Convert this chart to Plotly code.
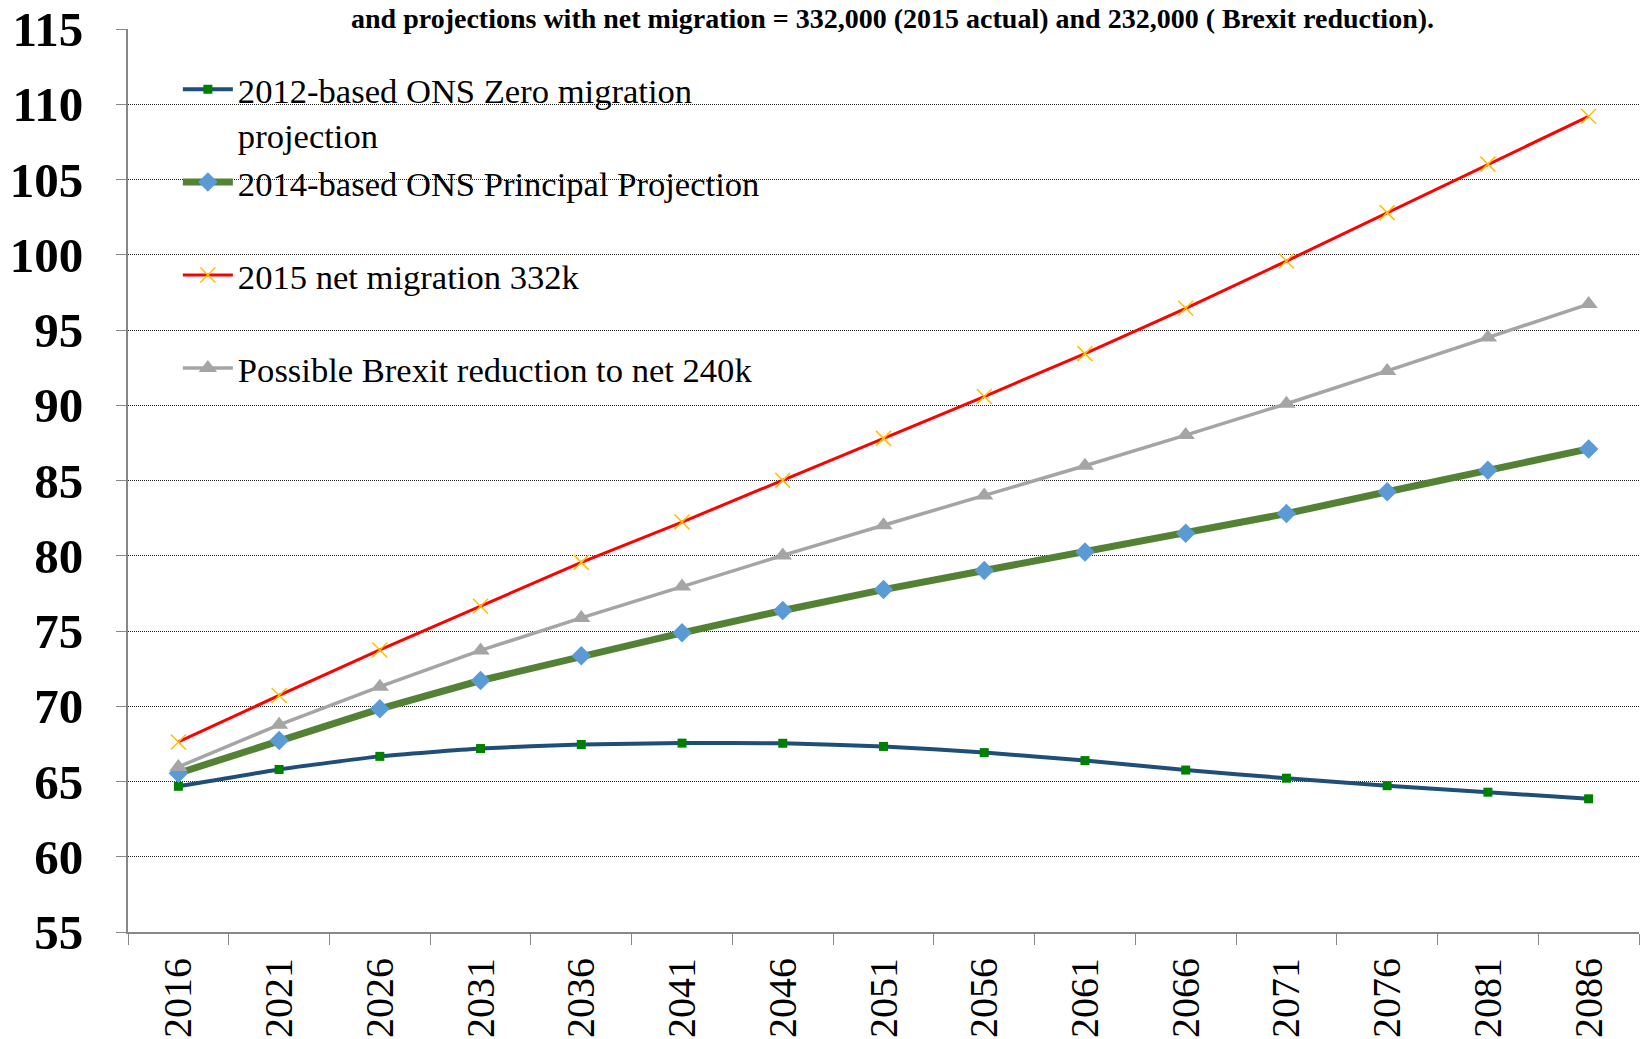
import plotly.graph_objects as go

# Projection years (category axis)
years = ["2016", "2021", "2026", "2031", "2036", "2041", "2046", "2051",
         "2056", "2061", "2066", "2071", "2076", "2081", "2086"]

# UK population projections, millions
zero_migration_2012 = [64.68, 65.80, 66.67, 67.19, 67.46, 67.55, 67.54, 67.33,
                       66.92, 66.39, 65.76, 65.22, 64.72, 64.29, 63.85]
principal_2014 = [65.55, 67.73, 69.83, 71.71, 73.35, 74.88, 76.36, 77.75,
                  79.02, 80.25, 81.50, 82.80, 84.25, 85.68, 87.10]
net_migration_332k = [67.63, 70.72, 73.74, 76.64, 79.56, 82.24, 85.01, 87.80,
                      90.58, 93.43, 96.44, 99.58, 102.80, 106.02, 109.20]
brexit_240k = [65.97, 68.77, 71.30, 73.71, 75.87, 77.96, 80.02, 82.03,
               84.00, 85.98, 88.02, 90.10, 92.28, 94.50, 96.72]

names = [
    "2012-based ONS Zero migration<br>projection",
    "2014-based ONS Principal Projection<br> ",
    "2015 net migration 332k<br> ",
    "Possible Brexit reduction to net 240k<br> ",
]

title_text = ("and projections with net migration = 332,000 (2015 actual) "
              "and 232,000 ( Brexit reduction).")

y_ticks = list(range(55, 116, 5))

SERIF = "Liberation Serif"
AXIS_GREY = "#878787"

fig = go.Figure()

fig.add_trace(go.Scatter(
    x=years, y=zero_migration_2012, name=names[0], legendgroup="a",
    mode="lines+markers",
    line=dict(color="#1F4E79", width=4, shape="spline", smoothing=0.5),
    marker=dict(symbol="square", size=9, color="#008000"),
))
fig.add_trace(go.Scatter(
    x=years, y=principal_2014, name=names[1], legendgroup="b",
    mode="lines+markers",
    line=dict(color="#548235", width=7),
    marker=dict(symbol="diamond", size=15, color="#5B9BD5"),
))
fig.add_trace(go.Scatter(
    x=years, y=net_migration_332k, name=names[2], legendgroup="c",
    mode="lines+markers",
    line=dict(color="#FF0000", width=3),
    marker=dict(symbol="x-thin", size=15, color="#FFC000",
                line=dict(color="#FFC000", width=1.5)),
))
fig.add_trace(go.Scatter(
    x=years, y=brexit_240k, name=names[3], legendgroup="d",
    mode="lines+markers",
    line=dict(color="#A5A5A5", width=3.5),
    marker=dict(symbol="triangle-up", size=16, color="#A5A5A5"),
))

fig.add_annotation(
    text="<b>" + title_text + "</b>",
    xref="paper", yref="paper", x=0.506, y=1.031,
    xanchor="center", yanchor="top", showarrow=False,
    font=dict(family=SERIF, size=28, color="black"),
)

fig.update_layout(
    width=1641, height=1039, autosize=False,
    margin=dict(l=128, r=2, t=29, b=107, pad=0),
    paper_bgcolor="white", plot_bgcolor="white",
    showlegend=True,
    legend=dict(
        x=0.033, y=0.9655, xanchor="left", yanchor="top",
        bgcolor="rgba(0,0,0,0)", borderwidth=0,
        font=dict(family=SERIF, size=34.6, color="black"),
        valign="top", tracegroupgap=0, traceorder="normal",
        itemwidth=50,
    ),
    xaxis=dict(
        type="category", tickson="boundaries",
        ticks="outside", ticklen=11, tickwidth=1, tickcolor=AXIS_GREY,
        showline=True, linewidth=2, linecolor=AXIS_GREY,
        showgrid=False, zeroline=False,
        tickangle=-90, ticklabelstandoff=8,
        tickfont=dict(family=SERIF, size=40, color="black"),
        range=[-0.5, 14.5],
    ),
    yaxis=dict(
        range=[55, 115], tickvals=y_ticks,
        ticks="outside", ticklen=10, tickwidth=1, tickcolor=AXIS_GREY,
        showline=True, linewidth=2, linecolor=AXIS_GREY,
        showgrid=True, gridcolor="#222222", gridwidth=1, griddash="1px,1px",
        zeroline=False,
        ticklabelstandoff=23,
        tickfont=dict(family=SERIF, size=49, color="black", weight="bold"),
    ),
)

fig.write_html("out.html")
